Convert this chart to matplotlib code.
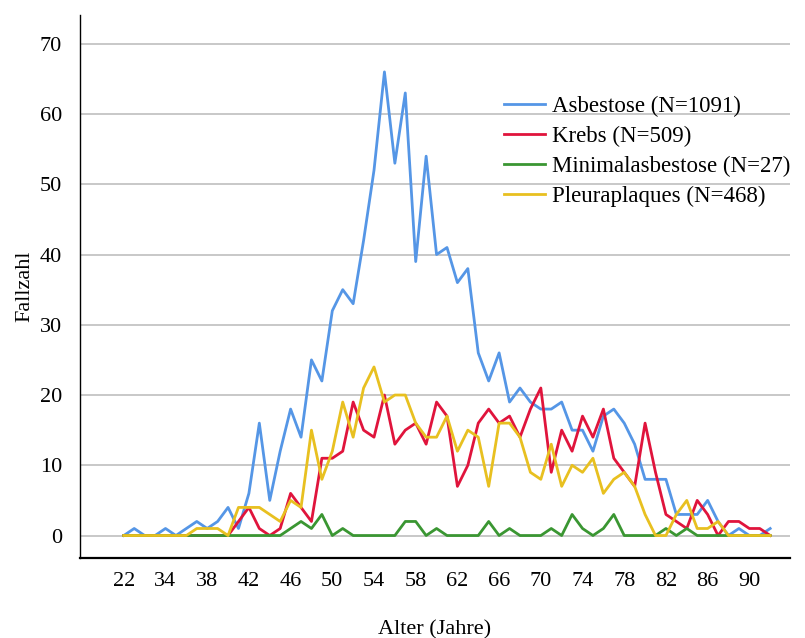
import matplotlib.pyplot as plt

plt.rcParams['font.family'] = ['Liberation Serif', 'DejaVu Serif']

# Altersklassen (kategoriale Achse, nur vorhandene Alter)
ages = [22, 26, 29, 32, 34, 35, 36, 37, 38, 39, 40, 41, 42, 43, 44, 45, 46, 47,
        48, 49, 50, 51, 52, 53, 54, 55, 56, 57, 58, 59, 60, 61, 62, 63, 64, 65,
        66, 67, 68, 69, 70, 71, 72, 73, 74, 75, 76, 77, 78, 79, 80, 81, 82, 83,
        84, 85, 86, 87, 88, 89, 90, 91, 92]

asbestose = [0, 1, 0, 0, 1, 0, 1, 2, 1, 2, 4, 1, 6, 16, 5, 12, 18, 14, 25, 22,
             32, 35, 33, 42, 52, 66, 53, 63, 39, 54, 40, 41, 36, 38, 26, 22, 26,
             19, 21, 19, 18, 18, 19, 15, 15, 12, 17, 18, 16, 13, 8, 8, 8, 3, 3,
             3, 5, 2, 0, 1, 0, 0, 1]
krebs = [0, 0, 0, 0, 0, 0, 0, 0, 0, 0, 0, 2, 4, 1, 0, 1, 6, 4, 2, 11, 11, 12,
         19, 15, 14, 20, 13, 15, 16, 13, 19, 17, 7, 10, 16, 18, 16, 17, 14, 18,
         21, 9, 15, 12, 17, 14, 18, 11, 9, 7, 16, 9, 3, 2, 1, 5, 3, 0, 2, 2, 1,
         1, 0]
minimal = [0, 0, 0, 0, 0, 0, 0, 0, 0, 0, 0, 0, 0, 0, 0, 0, 1, 2, 1, 3, 0, 1, 0,
           0, 0, 0, 0, 2, 2, 0, 1, 0, 0, 0, 0, 2, 0, 1, 0, 0, 0, 1, 0, 3, 1, 0,
           1, 3, 0, 0, 0, 0, 1, 0, 1, 0, 0, 0, 0, 0, 0, 0, 0]
pleura = [0, 0, 0, 0, 0, 0, 0, 1, 1, 1, 0, 4, 4, 4, 3, 2, 5, 4, 15, 8, 12, 19,
          14, 21, 24, 19, 20, 20, 16, 14, 14, 17, 12, 15, 14, 7, 16, 16, 14, 9,
          8, 13, 7, 10, 9, 11, 6, 8, 9, 7, 3, 0, 0, 3, 5, 1, 1, 2, 0, 0, 0, 0, 0]

series = [
    ('Asbestose (N=1091)', asbestose, '#5596e6'),
    ('Krebs (N=509)', krebs, '#e0143c'),
    ('Minimalasbestose (N=27)', minimal, '#3a9632'),
    ('Pleuraplaques (N=468)', pleura, '#e8c020'),
]

fig = plt.figure(figsize=(8.05, 6.38), dpi=100)
ax = fig.add_axes([80 / 805, 80 / 638, 710 / 805, 543 / 638])

x = list(range(len(ages)))
for label, values, color in series:
    ax.plot(x, values, color=color, linewidth=2.0, label=label)

ax.set_xlim(-4.2, 63.9)
ax.set_ylim(-3.2, 74.1)
ax.set_yticks(range(0, 71, 10))
ax.yaxis.grid(True, color='#c4c4c4', linewidth=1.3)
ax.set_axisbelow(True)

tick_idx = [0] + list(range(4, len(ages), 4))
ax.set_xticks(tick_idx)
ax.set_xticklabels([str(ages[i]) for i in tick_idx])
ax.tick_params(axis='both', length=0, labelsize=16)
ax.tick_params(axis='x', pad=10)
ax.tick_params(axis='y', pad=13)

for side in ['top', 'right']:
    ax.spines[side].set_visible(False)
ax.spines['left'].set_linewidth(1.0)
ax.spines['bottom'].set_linewidth(1.6)

ax.set_xlabel('Alter (Jahre)', fontsize=16, labelpad=21)
ax.set_ylabel('Fallzahl', fontsize=16, labelpad=4)

ax.legend(loc='upper left', bbox_to_anchor=(504 / 805, 1 - 96 / 638),
          bbox_transform=fig.transFigure, frameon=False, fontsize=16.5,
          handlelength=1.8, handletextpad=0.3, labelspacing=0.38,
          borderpad=0, borderaxespad=0)

plt.savefig('out.png', dpi=100)
plt.close()
